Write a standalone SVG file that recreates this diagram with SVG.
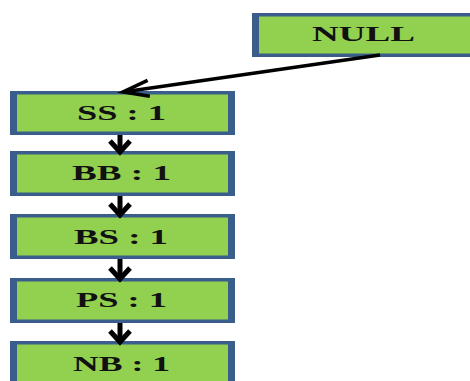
<svg xmlns="http://www.w3.org/2000/svg" width="470" height="381" viewBox="0 0 470 381">
  <style>
    .frame { fill: #3A5E8C; }
    .fill { fill: #92D050; }
    .label { font-family: "Liberation Serif", "Times New Roman", serif; font-weight: bold; font-size: 21px; fill: #111111; }
    .conn { stroke: #000000; fill: none; }
    .down { stroke-width: 5; marker-end: url(#headDown); }
    .diag { stroke-width: 3.5; marker-end: url(#headDiag); }
  </style>
  <defs>
    <marker id="headDown" markerUnits="userSpaceOnUse" orient="auto" refX="0" refY="0" markerWidth="40" markerHeight="40" viewBox="-20 -20 40 40" overflow="visible">
      <path d="M -11,-10 L 0,0 L -11,10" fill="none" stroke="#000000" stroke-width="5"/>
    </marker>
    <marker id="headDiag" markerUnits="userSpaceOnUse" orient="auto" refX="0" refY="0" markerWidth="60" markerHeight="40" viewBox="-30 -20 60 40" overflow="visible">
      <path d="M -26,-8 L 0,0 L -26,8" fill="none" stroke="#000000" stroke-width="3.5"/>
    </marker>
  </defs>

  <g id="node-null">
    <rect class="frame" x="252" y="13" width="225" height="44"/>
    <rect class="fill" x="259" y="16.5" width="211" height="37"/>
    <text class="label" x="312" y="41" textLength="103" lengthAdjust="spacingAndGlyphs">NULL</text>
  </g>

  <g id="node-ss">
    <rect class="frame" x="10" y="91" width="225" height="44"/>
    <rect class="fill" x="17" y="94.5" width="211" height="37"/>
    <text class="label" x="77" y="120" textLength="89" lengthAdjust="spacingAndGlyphs">SS : 1</text>
  </g>

  <g id="node-bb">
    <rect class="frame" x="10" y="151" width="225" height="45"/>
    <rect class="fill" x="17" y="154.5" width="211" height="38"/>
    <text class="label" x="72" y="180" textLength="99" lengthAdjust="spacingAndGlyphs">BB : 1</text>
  </g>

  <g id="node-bs">
    <rect class="frame" x="10" y="214" width="225" height="45"/>
    <rect class="fill" x="17" y="217.5" width="211" height="38"/>
    <text class="label" x="74" y="244" textLength="94" lengthAdjust="spacingAndGlyphs">BS : 1</text>
  </g>

  <g id="node-ps">
    <rect class="frame" x="10" y="278" width="225" height="45"/>
    <rect class="fill" x="17" y="281.5" width="211" height="38"/>
    <text class="label" x="76" y="307" textLength="91" lengthAdjust="spacingAndGlyphs">PS : 1</text>
  </g>

  <g id="node-nb">
    <rect class="frame" x="10" y="341" width="225" height="50"/>
    <rect class="fill" x="17" y="344.5" width="211" height="50"/>
    <text class="label" x="73" y="371" textLength="97" lengthAdjust="spacingAndGlyphs">NB : 1</text>
  </g>

  <g id="connectors">
    <line class="conn diag" x1="380" y1="55" x2="123" y2="92"/>
    <line class="conn down" x1="120" y1="135" x2="120" y2="152"/>
    <line class="conn down" x1="120" y1="196" x2="120" y2="215"/>
    <line class="conn down" x1="120" y1="259" x2="120" y2="279"/>
    <line class="conn down" x1="120" y1="323" x2="120" y2="342"/>
  </g>
</svg>
